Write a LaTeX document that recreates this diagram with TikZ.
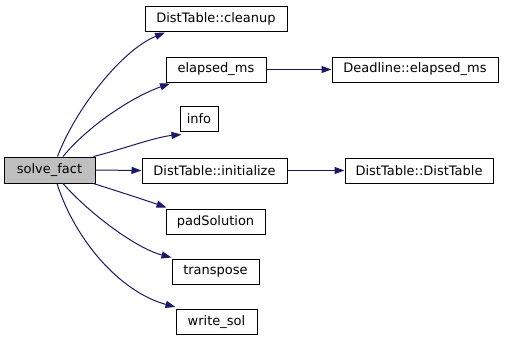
\documentclass[tikz,border=0pt]{standalone}
\usepackage{fontspec}
\setmainfont{DejaVu Sans}
\usetikzlibrary{arrows.meta}
\definecolor{edgeblue}{HTML}{191970}
\definecolor{rootgray}{HTML}{BFBFBF}
\begin{document}
\begin{tikzpicture}[x=1pt,y=-1pt,
  fn/.style={draw=black,line width=1pt,fill=white,inner sep=0pt,minimum height=25pt,font=\fontsize{13}{15}\selectfont},
  root/.style={fn,fill=rootgray,minimum height=26pt},
  call/.style={draw=edgeblue,line width=1pt,-{Triangle[length=10pt,width=7pt]}}]
\useasboundingbox (0,0) rectangle (509,341);
% functions
\node[root,minimum width=91pt] (sf) at (49.5,170) {solve\_fact};
\node[fn,minimum width=142pt] (cleanup) at (216,18.5) {DistTable::cleanup};
\node[fn,minimum width=100pt] (elapsed) at (216,69.5) {elapsed\_ms};
\node[fn,minimum width=166pt] (deadline) at (415,69.5) {Deadline::elapsed\_ms};
\node[fn,minimum width=38pt] (info) at (199,118.5) {info};
\node[fn,minimum width=145pt] (init) at (214.5,170.5) {DistTable::initialize};
\node[fn,minimum width=148pt] (dtable) at (419,170.5) {DistTable::DistTable};
\node[fn,minimum width=99pt] (pad) at (215.5,221.5) {padSolution};
\node[fn,minimum width=87pt] (transpose) at (215.5,271.5) {transpose};
\node[fn,minimum width=81pt] (writesol) at (216.5,322) {write\_sol};
% calls
\draw[call] ([xshift=8]sf.north) .. controls (76,108) and (122,50) .. ([xshift=-51,yshift=-1]cleanup.south);
\draw[call] ([xshift=13.5]sf.north) .. controls (88,126) and (132,97) .. ([xshift=-46,yshift=-1]elapsed.south);
\draw[call] ([xshift=-2]sf.north east) .. controls (120,150) and (155,137) .. ([xshift=2,yshift=-3]info.south west);
\draw[call] (sf.east) -- (init.west);
\draw[call] ([xshift=-2]sf.south east) .. controls (120,192) and (145,200) .. ([xshift=1,yshift=1]pad.north west);
\draw[call] ([xshift=13.5]sf.south) .. controls (88,212) and (135,248) .. ([xshift=0,yshift=1]transpose.north west);
\draw[call] ([xshift=7.5]sf.south) .. controls (75,240) and (120,292) .. ([xshift=0,yshift=2]writesol.north west);
\draw[call] (elapsed.east) -- (deadline.west);
\draw[call] (init.east) -- (dtable.west);
\end{tikzpicture}
\end{document}
